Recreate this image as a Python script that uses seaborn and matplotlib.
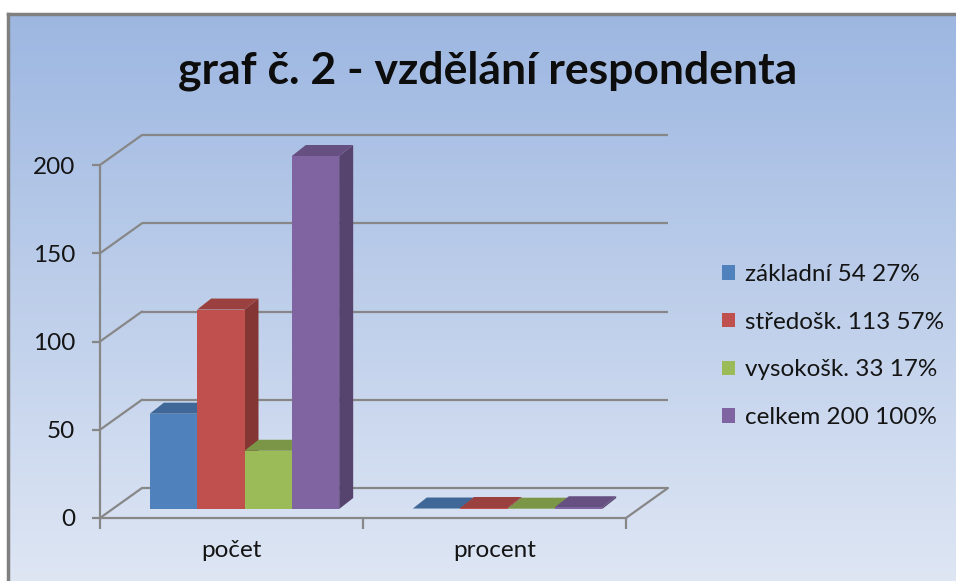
import numpy as np
import pandas as pd
import matplotlib
matplotlib.use("Agg")
import matplotlib.pyplot as plt
import matplotlib.colors as mcolors
from matplotlib.patches import Polygon, Patch
from matplotlib.transforms import ScaledTranslation
import seaborn as sns

# ---- data ----
categories = ["počet", "procent"]
levels = ["základní", "středošk.", "vysokošk.", "celkem"]
counts = [54, 113, 33, 200]
percents = [27, 57, 17, 100]
procent_values = [0.27, 0.57, 0.17, 1.0]
colors = ["#4f81bd", "#c0504d", "#9bbb59", "#8064a2"]
yticks = [0, 50, 100, 150, 200]
title = "graf č. 2 - vzdělání respondenta"

labels = [f"{l} {c} {p}%" for l, c, p in zip(levels, counts, percents)]
rows = []
for lab, c, p in zip(labels, counts, procent_values):
    rows.append({"cat": categories[0], "label": lab, "value": c})
    rows.append({"cat": categories[1], "label": lab, "value": p})
df = pd.DataFrame(rows)

sns.set_theme(style="white")
plt.rcParams["font.family"] = ["Lato", "DejaVu Sans"]

W, H = 956, 581
fig = plt.figure(figsize=(W / 100, H / 100), dpi=100)
fig.patch.set_facecolor("white")

# background gradient panel with border
bx0, by_top = 8, 14
bg = fig.add_axes([bx0 / W, 0, 1 - bx0 / W, (H - by_top) / H], zorder=-10)
grad = np.linspace(0, 1, 256)[:, None]
top_c = np.array([157, 183, 225]) / 255
bot_c = np.array([222, 230, 244]) / 255
img = top_c[None, None, :] * (1 - grad[:, :, None]) + bot_c[None, None, :] * grad[:, :, None]
bg.imshow(img, aspect="auto", extent=[0, 1, 0, 1], origin="upper")
bg.set_xlim(0, 1); bg.set_ylim(0, 1)
bg.set_xticks([]); bg.set_yticks([])
for s in ["right", "bottom"]:
    bg.spines[s].set_visible(False)
for s in ["left", "top"]:
    bg.spines[s].set_color("#808080")
    bg.spines[s].set_linewidth(2.5)

# front-plane axes
fx0, fx1 = 100, 626
fy0, fy200 = 518, 165
ax = fig.add_axes([fx0 / W, (H - fy0) / H, (fx1 - fx0) / W, (fy0 - fy200) / H])
ax.patch.set_alpha(0)

sns.barplot(data=df, x="cat", y="value", hue="label", palette=colors,
            saturation=1, width=0.72, errorbar=None, legend=False, ax=ax,
            edgecolor="none", linewidth=0)
ax.set_xlim(-0.5, 1.5)
ax.set_ylim(0, 200)
ax.set_yticks(yticks)
ax.set_xlabel("")
ax.set_ylabel("")

grid_c = "#878787"
for s in ["top", "right"]:
    ax.spines[s].set_visible(False)
for s in ["left", "bottom"]:
    ax.spines[s].set_color(grid_c)
    ax.spines[s].set_linewidth(1.6)
    ax.spines[s].set_zorder(20)

ax.tick_params(axis="y", which="major", length=6, width=1.6, color=grid_c,
               labelsize=17.5, pad=12, left=True, labelcolor="#141414")
ax.set_xticks([0, 1])
ax.set_xticklabels(categories)
ax.set_xticks([-0.5, 0.5, 1.5], minor=True)
ax.tick_params(axis="x", which="major", length=0, labelsize=17.5, pad=16, labelcolor="#141414")
ax.tick_params(axis="x", which="minor", length=8, width=1.6, color=grid_c, bottom=True)

dpi = fig.dpi
# back wall offset (pixels)
bdx, bdy = 42, 30
back_off = ax.transData + ScaledTranslation(bdx / dpi, bdy / dpi, fig.dpi_scale_trans)
for v in yticks:
    ax.plot([-0.5, 1.5], [v, v], color=grid_c, lw=1.6, transform=back_off,
            clip_on=False, zorder=1, solid_capstyle="butt")
    p0 = ax.transData.transform((-0.5, v))
    p1 = p0 + np.array([bdx, bdy])
    q = ax.transData.inverted().transform(np.vstack([p0, p1]))
    ax.plot(q[:, 0], q[:, 1], color=grid_c, lw=1.6, clip_on=False, zorder=1)
p0 = ax.transData.transform((1.5, 0))
p1 = p0 + np.array([bdx, bdy])
q = ax.transData.inverted().transform(np.vstack([p0, p1]))
ax.plot(q[:, 0], q[:, 1], color=grid_c, lw=1.6, clip_on=False, zorder=1)

# bars: shift into the bar plane and add 3D faces
pdx, pdy = 13, 9   # bar plane offset
ddx, ddy = 14, 11  # bar depth
bar_off = ScaledTranslation(pdx / dpi, pdy / dpi, fig.dpi_scale_trans)
inv = ax.transData.inverted()

def darker(c, f):
    r, g, b = mcolors.to_rgb(c)
    return (r * f, g * f, b * f)

bars = []
for hi, cont in enumerate(ax.containers):
    for rect in cont:
        bars.append((rect.get_x(), hi, rect))
bars.sort(key=lambda t: t[0])

z = 5
for x0, hi, rect in bars:
    col = colors[hi]
    rect.set_transform(ax.transData + bar_off)
    rect.set_clip_on(False)
    w = rect.get_width(); h = rect.get_height(); xl = rect.get_x()
    br = ax.transData.transform((xl + w, 0)) + [pdx, pdy]
    tl = ax.transData.transform((xl, h)) + [pdx, pdy]
    tr = ax.transData.transform((xl + w, h)) + [pdx, pdy]
    d = np.array([ddx, ddy])
    side = np.vstack([br, tr, tr + d, br + d])
    top = np.vstack([tl, tr, tr + d, tl + d])
    ax.add_patch(Polygon(inv.transform(side), closed=True, facecolor=darker(col, 0.68),
                         edgecolor="none", clip_on=False, zorder=z))
    ax.add_patch(Polygon(inv.transform(top), closed=True, facecolor=darker(col, 0.8),
                         edgecolor="none", clip_on=False, zorder=z))
    rect.set_zorder(z + 1)
    z += 2

# title
fig.text(488 / W, (H - 71) / H, title, ha="center", va="center",
         fontsize=32, fontweight="bold", color="#0d0d0d")

# legend
handles = [Patch(facecolor=c, edgecolor="none") for c in colors]
fig.legend(handles, labels, loc="upper left", bbox_to_anchor=(722 / W, (H - 264) / H),
           frameon=False, fontsize=17.5, handlelength=0.55, handleheight=0.55,
           handletextpad=0.4, labelspacing=1.1, borderpad=0, borderaxespad=0,
           labelcolor="#141414")

fig.savefig("out.png", dpi=100)
